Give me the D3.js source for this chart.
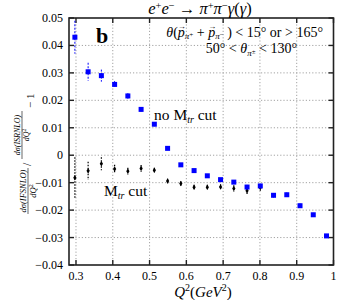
<!DOCTYPE html>
<meta charset="utf-8">
<style>
body { margin: 0; background: #fff; }
text { font-family: "Liberation Serif", "DejaVu Serif", serif; fill: #000; }
.grid line { stroke: #999; stroke-dasharray: 1.2,2; stroke-width: 0.9; }
.frame { fill: none; stroke: #222; stroke-width: 1.6; }
.tick { stroke: #222; stroke-width: 1.4; }
</style>
<svg width="338" height="300"></svg>
<script src="https://d3js.org/d3.v7.min.js"></script>
<script>

// Q^2 bins (GeV^2)
var q2 = [0.297, 0.333, 0.369, 0.405, 0.441, 0.477, 0.513, 0.549, 0.585, 0.621,
          0.657, 0.693, 0.729, 0.765, 0.801, 0.837, 0.873, 0.909, 0.945, 0.981];
// no M_tr cut (blue)
var noCut    = [0.0430, 0.0304, 0.0290, 0.0258, 0.0216, 0.0167, 0.0113, 0.0025, -0.0035, -0.0056,
                -0.0075, -0.0089, -0.0098, -0.0116, -0.0112, -0.0146, -0.0144, -0.0184, -0.0217, -0.0294];
var noCutErr = [0.0060, 0.0033, 0.0022, 0.0012, 0.0010, 0.0008, 0.0007, 0.0006, 0.0006, 0.0006,
                0.0006, 0.0006, 0.0006, 0.0008, 0.0008, 0.0008, 0.0008, 0.0008, 0.0007, 0.0006];
// M_tr cut (black)
var q2Cut     = [0.297, 0.333, 0.369, 0.405, 0.441, 0.477, 0.513, 0.549, 0.585, 0.621,
                 0.657, 0.693, 0.729, 0.765, 0.801];
var mtrCut    = [-0.0082, -0.0057, -0.0031, -0.0050, -0.0058, -0.0048, -0.0055, -0.0094, -0.0103, -0.0117,
                 -0.0117, -0.0116, -0.0121, -0.0129, -0.0118];
var mtrCutErr = [0.0075, 0.0033, 0.0024, 0.0015, 0.0012, 0.0012, 0.0009, 0.0008, 0.0008, 0.0009,
                 0.0009, 0.0010, 0.0012, 0.0015, 0.0012];

var xTicks = [0.3, 0.4, 0.5, 0.6, 0.7, 0.8, 0.9, 1];
var yTicks = [0.05, 0.04, 0.03, 0.02, 0.01, 0, -0.01, -0.02, -0.03, -0.04];

var svg = d3.select("svg");
var pl = 69, pr = 333.5, pt = 18, pb = 265;

var x = d3.scaleLinear().domain([0.281, 1.0]).range([pl, pr]);
var y = d3.scaleLinear().domain([-0.04, 0.05]).range([pb, pt]);

// grid
var grid = svg.append("g").attr("class", "grid");
grid.selectAll(".gx").data(xTicks.filter(function(d) { return d < 1; }))
  .enter().append("line")
    .attr("x1", function(d) { return x(d); }).attr("x2", function(d) { return x(d); })
    .attr("y1", pt).attr("y2", pb);
grid.selectAll(".gy").data(yTicks.filter(function(d) { return d > -0.04 && d < 0.05; }))
  .enter().append("line")
    .attr("y1", function(d) { return y(d); }).attr("y2", function(d) { return y(d); })
    .attr("x1", pl).attr("x2", pr);

// ticks (inward, all four sides)
var tk = svg.append("g");
xTicks.forEach(function(d) {
  tk.append("line").attr("class", "tick").attr("x1", x(d)).attr("x2", x(d)).attr("y1", pb).attr("y2", pb - 5);
  tk.append("line").attr("class", "tick").attr("x1", x(d)).attr("x2", x(d)).attr("y1", pt).attr("y2", pt + 5);
});
yTicks.forEach(function(d) {
  tk.append("line").attr("class", "tick").attr("y1", y(d)).attr("y2", y(d)).attr("x1", pl).attr("x2", pl + 5);
  tk.append("line").attr("class", "tick").attr("y1", y(d)).attr("y2", y(d)).attr("x1", pr).attr("x2", pr - 5);
});

// tick labels
var fmtY = function(d) { return d === 0 ? "0" : d3.format(".2f")(d).replace("-", "\u2212"); };
svg.append("g").selectAll("text").data(yTicks).enter().append("text")
    .attr("x", pl - 6).attr("y", function(d) { return y(d) + 4; })
    .attr("text-anchor", "end").attr("font-size", 12)
    .text(fmtY);
svg.append("g").selectAll("text").data(xTicks).enter().append("text")
    .attr("x", function(d) { return x(d); }).attr("y", 280)
    .attr("text-anchor", "middle").attr("font-size", 12)
    .text(function(d) { return d; });

svg.append("clipPath").attr("id", "clip")
  .append("rect").attr("x", pl).attr("y", pt).attr("width", pr - pl).attr("height", pb - pt);
var plot = svg.append("g").attr("clip-path", "url(#clip)");

// M_tr cut: black points
var blk = q2Cut.map(function(d, i) { return {x: d, y: mtrCut[i], e: mtrCutErr[i]}; });
plot.selectAll(".eb").data(blk).enter().append("line")
    .attr("x1", function(d) { return x(d.x); }).attr("x2", function(d) { return x(d.x); })
    .attr("y1", function(d) { return y(d.y + d.e); }).attr("y2", function(d) { return y(d.y - d.e); })
    .attr("stroke", "#000").attr("stroke-width", 1.2).attr("stroke-dasharray", "1.5,1.5");
plot.selectAll(".bp").data(blk).enter().append("path")
    .attr("d", d3.symbol().type(d3.symbolDiamond).size(9))
    .attr("transform", function(d) { return "translate(" + x(d.x) + "," + y(d.y) + ")"; })
    .attr("fill", "#000");

// no M_tr cut: blue points
var blu = q2.map(function(d, i) { return {x: d, y: noCut[i], e: noCutErr[i]}; });
plot.selectAll(".ebb").data(blu).enter().append("line")
    .attr("x1", function(d) { return x(d.x); }).attr("x2", function(d) { return x(d.x); })
    .attr("y1", function(d) { return y(d.y + d.e); }).attr("y2", function(d) { return y(d.y - d.e); })
    .attr("stroke", "#0000ff").attr("stroke-width", 1).attr("stroke-dasharray", "2,1.5");
plot.selectAll(".sq").data(blu).enter().append("rect")
    .attr("x", function(d) { return x(d.x) - 2.5; }).attr("y", function(d) { return y(d.y) - 2.5; })
    .attr("width", 5).attr("height", 5)
    .attr("fill", "#0000ff");

// frame
svg.append("rect").attr("class", "frame")
    .attr("x", pl).attr("y", pt).attr("width", pr - pl).attr("height", pb - pt);

// title
var t = svg.append("text").attr("x", 200).attr("y", 14).attr("text-anchor", "middle")
    .attr("font-size", 16.5).attr("font-style", "italic");
function sup(el, s) {
  el.append("tspan").attr("font-size", 10.5).attr("dy", -5).attr("font-style", "normal").text(s);
}
t.append("tspan").text("e"); sup(t, "+");
t.append("tspan").attr("dy", 5).text("e"); sup(t, "\u2212");
t.append("tspan").attr("dy", 5).attr("font-style", "normal").text(" \u2192 ");
t.append("tspan").text("\u03c0"); sup(t, "+");
t.append("tspan").attr("dy", 5).text("\u03c0"); sup(t, "\u2212");
t.append("tspan").attr("dy", 5).text("\u03b3");
t.append("tspan").attr("font-style", "normal").text("(");
t.append("tspan").text("\u03b3");
t.append("tspan").attr("font-style", "normal").text(")");

// panel letter
svg.append("text").attr("x", 96).attr("y", 43).attr("font-size", 22).attr("font-weight", "bold").text("b");

// cut annotations
function pvec(el, s) {
  el.append("tspan").attr("font-style", "italic").text("p");
  el.append("tspan").attr("font-size", 8).attr("dx", -7).attr("dy", -8).text("\u2192");
  el.append("tspan").attr("font-size", 9).attr("dx", -1).attr("dy", 10).attr("font-style", "italic").text("\u03c0");
  el.append("tspan").attr("font-size", 7).attr("dy", -2).text(s);
  el.append("tspan").attr("dy", 0).text(" ");
}
var a1 = svg.append("text").attr("x", 323).attr("y", 37).attr("text-anchor", "end").attr("font-size", 14);
a1.append("tspan").attr("font-style", "italic").text("\u03b8");
a1.append("tspan").text("(");
pvec(a1, "+");
a1.append("tspan").text("+ ");
pvec(a1, "\u2212");
a1.append("tspan").text(") < 15\u00b0 or > 165\u00b0");

var a2 = svg.append("text").attr("x", 297).attr("y", 53).attr("text-anchor", "end").attr("font-size", 14);
a2.append("tspan").text("50\u00b0 < ");
a2.append("tspan").attr("font-style", "italic").text("\u03b8");
a2.append("tspan").attr("font-size", 9).attr("dy", 3).attr("font-style", "italic").text("\u03c0");
a2.append("tspan").attr("font-size", 7).attr("dy", -2).text("\u00b1");
a2.append("tspan").attr("dy", -1).text(" < 130\u00b0");

// series labels
var l1 = svg.append("text").attr("x", 154).attr("y", 120).attr("font-size", 15.5);
l1.append("tspan").text("no M");
l1.append("tspan").attr("font-size", 10).attr("dy", 3).attr("font-style", "italic").text("tr");
l1.append("tspan").attr("dy", -3).text(" cut");
var l2 = svg.append("text").attr("x", 104).attr("y", 196).attr("font-size", 15.5);
l2.append("tspan").text("M");
l2.append("tspan").attr("font-size", 10).attr("dy", 3).attr("font-style", "italic").text("tr");
l2.append("tspan").attr("dy", -3).text(" cut");

// x axis label
var xl = svg.append("text").attr("x", 203).attr("y", 297).attr("text-anchor", "middle")
    .attr("font-size", 15).attr("font-style", "italic");
xl.append("tspan").text("Q");
xl.append("tspan").attr("font-size", 10).attr("dy", -6).attr("font-style", "normal").text("2");
xl.append("tspan").attr("dy", 6).attr("font-style", "normal").text("(");
xl.append("tspan").text("GeV");
xl.append("tspan").attr("font-size", 10).attr("dy", -6).attr("font-style", "normal").text("2");
xl.append("tspan").attr("dy", 6).attr("font-style", "normal").text(")");

// y axis label (rotated fraction ratio)
var yl = svg.append("g").attr("transform", "translate(28,214) rotate(-90)");
function frac(g, x0, w, num, den, fs, dy) {
  g.append("text").attr("x", x0 + w / 2).attr("y", dy - 2).attr("text-anchor", "middle")
    .attr("font-size", fs).attr("font-style", "italic").text(num);
  var dn = g.append("text").attr("x", x0 + w / 2).attr("y", dy + fs - 1).attr("text-anchor", "middle")
    .attr("font-size", fs).attr("font-style", "italic");
  dn.append("tspan").text(den);
  dn.append("tspan").attr("font-size", fs * 0.7).attr("dy", -fs * 0.35).attr("font-style", "normal").text("2");
  g.append("line").attr("x1", x0).attr("x2", x0 + w).attr("y1", dy).attr("y2", dy)
    .attr("stroke", "#000").attr("stroke-width", 0.6);
}
frac(yl, 0, 46, "d\u03c3(IFSNLO)", "dQ", 8.5, 0);
yl.append("text").attr("x", 48).attr("y", 3).attr("font-size", 12).text("/");
frac(yl, 55, 48, "d\u03c3(ISRNLO)", "dQ", 8, -6);
yl.append("text").attr("x", 106).attr("y", 6).attr("font-size", 11).text("\u2212 1");

</script>
